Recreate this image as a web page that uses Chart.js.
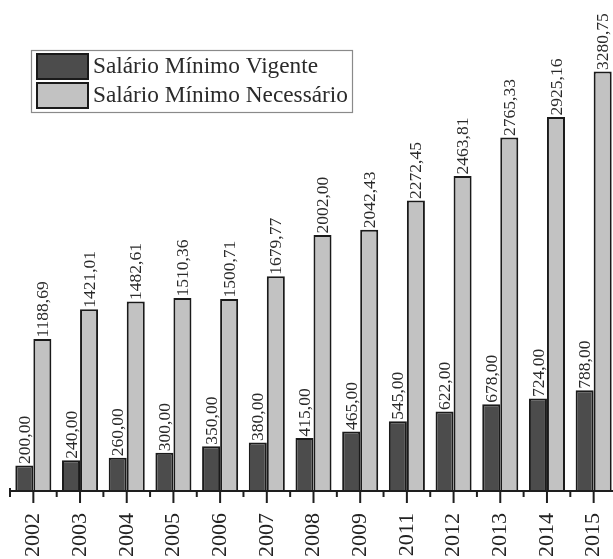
<!DOCTYPE html>
<html>
<head>
<meta charset="utf-8">
<script src="https://cdn.jsdelivr.net/npm/chart.js@4/dist/chart.umd.min.js"></script>
<style>
html,body{margin:0;padding:0;background:#fff;overflow:hidden;width:613px;height:559px;}
canvas{display:block;}
</style>
</head>
<body>
<canvas id="c" width="617" height="559"></canvas>
<script>
const years = ['2002','2003','2004','2005','2006','2007','2008','2009','2011','2012','2013','2014','2015'];
const vigente = [200.00,240.00,260.00,300.00,350.00,380.00,415.00,465.00,545.00,622.00,678.00,724.00,788.00];
const necessario = [1188.69,1421.01,1482.61,1510.36,1500.71,1679.77,2002.00,2042.43,2272.45,2463.81,2765.33,2925.16,3280.75];
const seriesNames = ['Salário Mínimo Vigente','Salário Mínimo Necessário'];

const SERIF = '"Liberation Serif","Times New Roman",serif';
const fmt = v => v.toFixed(2).replace('.', ',');

const valueLabels = {
  id: 'valueLabels',
  afterDatasetsDraw(chart) {
    const ctx = chart.ctx;
    ctx.save();
    ctx.font = '17.5px ' + SERIF;
    ctx.fillStyle = '#2a2a2a';
    ctx.textAlign = 'left';
    ctx.textBaseline = 'middle';
    chart.data.datasets.forEach((ds, i) => {
      const meta = chart.getDatasetMeta(i);
      meta.data.forEach((el, j) => {
        ctx.save();
        ctx.translate(el.x + 1, el.y - 1.5);
        ctx.rotate(-Math.PI / 2);
        ctx.fillText(fmt(ds.data[j]), 0, 0);
        ctx.restore();
      });
    });
    ctx.restore();
  }
};

const axisPlugin = {
  id: 'axisPlugin',
  afterDatasetsDraw(chart) {
    const ctx = chart.ctx;
    const xs = chart.scales.x;
    const ca = chart.chartArea;
    const y = ca.bottom;
    ctx.save();
    ctx.strokeStyle = '#1e1e1e';
    ctx.lineWidth = 2;
    ctx.beginPath();
    ctx.moveTo(ca.left, y);
    ctx.lineTo(ca.right, y);
    ctx.stroke();
    const n = chart.data.labels.length;
    const w = (ca.right - ca.left) / n;
    for (let i = 0; i < n; i++) {
      const cx = xs.getPixelForValue(i);
      ctx.beginPath();
      ctx.moveTo(cx, y);
      ctx.lineTo(cx, y + 12);
      ctx.stroke();
      const bx = cx - w / 2;
      ctx.beginPath();
      ctx.moveTo(bx, y - (i === 0 ? 3 : 0));
      ctx.lineTo(bx, y + 6);
      ctx.stroke();
    }
    ctx.restore();
  }
};

const legendPlugin = {
  id: 'customLegend',
  afterDraw(chart) {
    const ctx = chart.ctx;
    ctx.save();
    ctx.fillStyle = '#ffffff';
    ctx.fillRect(31, 50, 322, 63);
    ctx.strokeStyle = '#8a8a8a';
    ctx.lineWidth = 1.2;
    ctx.strokeRect(31.5, 50.5, 321, 62);
    chart.data.datasets.forEach((ds, i) => {
      const top = 53 + i * 29;
      ctx.fillStyle = ds.backgroundColor;
      ctx.fillRect(36, top, 53, 27);
      ctx.strokeStyle = '#1a1a1a';
      ctx.lineWidth = 2;
      ctx.strokeRect(37, top + 1, 51, 25);
      ctx.fillStyle = '#2a2a2a';
      ctx.font = '23.3px ' + SERIF;
      ctx.textAlign = 'left';
      ctx.textBaseline = 'middle';
      ctx.fillText(ds.label, 93, top + 14);
    });
    ctx.restore();
  }
};

new Chart(document.getElementById('c'), {
  type: 'bar',
  data: {
    labels: years,
    datasets: [
      { label: seriesNames[0], data: vigente, backgroundColor: '#4c4c4c', borderColor: '#1a1a1a', borderWidth: 2, borderSkipped: 'bottom' },
      { label: seriesNames[1], data: necessario, backgroundColor: '#c2c2c2', borderColor: '#1a1a1a', borderWidth: 2, borderSkipped: 'bottom' }
    ]
  },
  options: {
    responsive: false,
    animation: false,
    devicePixelRatio: 1,
    layout: { padding: { left: 10, right: 0, top: 0, bottom: 0 } },
    datasets: { bar: { categoryPercentage: 0.772, barPercentage: 1.0 } },
    plugins: { legend: { display: false }, tooltip: { enabled: false } },
    scales: {
      x: {
        grid: { display: false, drawTicks: false },
        border: { display: false },
        ticks: {
          color: '#222',
          font: { family: SERIF, size: 22 },
          minRotation: 90, maxRotation: 90,
          padding: 22,
          autoSkip: false
        },
        afterFit(s) { s.height = 68; s.paddingLeft = 0; s.paddingRight = 0; }
      },
      y: {
        display: false,
        min: 0,
        max: 3840
      }
    }
  },
  plugins: [valueLabels, axisPlugin, legendPlugin]
});
</script>
</body>
</html>
